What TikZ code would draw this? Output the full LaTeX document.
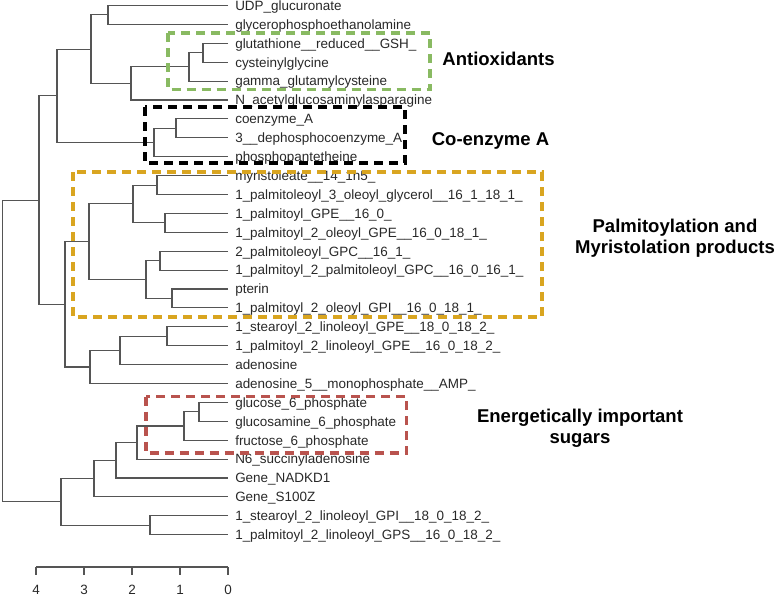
\documentclass[tikz,border=0pt]{standalone}
\usepackage{fontspec}
\setmainfont{Liberation Sans}
\usepackage{tikz}
\definecolor{treegray}{RGB}{85,85,85}
\definecolor{labelgray}{RGB}{40,40,40}
\definecolor{boxgreen}{RGB}{137,186,98}
\definecolor{boxgold}{RGB}{217,165,32}
\definecolor{boxred}{RGB}{185,83,78}
\tikzset{
	leaf/.style={anchor=west, inner xsep=5.25pt, inner ysep=0pt, text height=7.2pt, text depth=0pt, text=labelgray, font=\fontsize{10.1}{12}\selectfont},
	branch/.style={line width=0.8pt, color=treegray},
	clusterbox/.style={line width=2.4pt, dash pattern=on 6.75pt off 4.5pt},
	grouplabel/.style={font=\fontsize{13.9}{16}\selectfont\bfseries, align=center, inner sep=0pt},
	axisnum/.style={inner sep=0pt, text height=7.2pt, text depth=0pt, text=labelgray, font=\fontsize{10.1}{12}\selectfont}
}

\begin{document}
\begin{tikzpicture}[x=0.75pt, y=-0.75pt]
			%%%%% START %%%%%
			\useasboundingbox (0, 0) rectangle (778, 597);
			
			% leaves
			\node[leaf] (udp) at (228, 5.5) {UDP\_glucuronate};
			\node[leaf] (gpe) at (228, 24.4) {glycerophosphoethanolamine};
			\node[leaf] (gsh) at (228, 43.3) {glutathione\_\_reduced\_\_GSH\_};
			\node[leaf] (cysgly) at (228, 62.2) {cysteinylglycine};
			\node[leaf] (ggc) at (228, 81.1) {gamma\_glutamylcysteine};
			\node[leaf] (nacetyl) at (228, 100) {N\_acetylglucosaminylasparagine};
			\node[leaf] (coa) at (228, 118.9) {coenzyme\_A};
			\node[leaf] (dpcoa) at (228, 137.8) {3\_\_dephosphocoenzyme\_A};
			\node[leaf] (ppant) at (228, 156.7) {phosphopantetheine};
			\node[leaf] (myr) at (228, 175.6) {myristoleate\_\_14\_1n5\_};
			\node[leaf] (pog) at (228, 194.5) {1\_palmitoleoyl\_3\_oleoyl\_glycerol\_\_16\_1\_18\_1\_};
			\node[leaf] (pgpe) at (228, 213.4) {1\_palmitoyl\_GPE\_\_16\_0\_};
			\node[leaf] (pogpe) at (228, 232.3) {1\_palmitoyl\_2\_oleoyl\_GPE\_\_16\_0\_18\_1\_};
			\node[leaf] (plgpc) at (228, 251.2) {2\_palmitoleoyl\_GPC\_\_16\_1\_};
			\node[leaf] (ppgpc) at (228, 270.1) {1\_palmitoyl\_2\_palmitoleoyl\_GPC\_\_16\_0\_16\_1\_};
			\node[leaf] (pterin) at (228, 289) {pterin};
			\node[leaf] (pogpi) at (228, 307.9) {1\_palmitoyl\_2\_oleoyl\_GPI\_\_16\_0\_18\_1\_};
			\node[leaf] (slgpe) at (228, 326.8) {1\_stearoyl\_2\_linoleoyl\_GPE\_\_18\_0\_18\_2\_};
			\node[leaf] (plgpe) at (228, 345.7) {1\_palmitoyl\_2\_linoleoyl\_GPE\_\_16\_0\_18\_2\_};
			\node[leaf] (ado) at (228, 364.6) {adenosine};
			\node[leaf] (amp) at (228, 383.5) {adenosine\_5\_\_monophosphate\_\_AMP\_};
			\node[leaf] (g6p) at (228, 402.4) {glucose\_6\_phosphate};
			\node[leaf] (gn6p) at (228, 421.3) {glucosamine\_6\_phosphate};
			\node[leaf] (f6p) at (228, 440.2) {fructose\_6\_phosphate};
			\node[leaf] (n6sa) at (228, 459.1) {N6\_succinyladenosine};
			\node[leaf] (nadkd) at (228, 478) {Gene\_NADKD1};
			\node[leaf] (s100z) at (228, 496.9) {Gene\_S100Z};
			\node[leaf] (slgpi) at (228, 515.8) {1\_stearoyl\_2\_linoleoyl\_GPI\_\_18\_0\_18\_2\_};
			\node[leaf] (plgps) at (228, 534.7) {1\_palmitoyl\_2\_linoleoyl\_GPS\_\_16\_0\_18\_2\_};
			
			% merges
			\coordinate (h1) at (108, 14.95);
			\coordinate (h2) at (203, 52.75);
			\coordinate (h3) at (189, 66.9);
			\coordinate (h4) at (131, 83.5);
			\coordinate (h5) at (91, 49.2);
			\coordinate (h6) at (176, 128.35);
			\coordinate (h7) at (154, 142.5);
			\coordinate (h8) at (57, 95.9);
			\coordinate (h9) at (157, 185.05);
			\coordinate (h10) at (165, 222.85);
			\coordinate (h11) at (133, 203.95);
			\coordinate (h12) at (160, 260.65);
			\coordinate (h13) at (172, 298.45);
			\coordinate (h14) at (146, 279.55);
			\coordinate (h15) at (89, 241.75);
			\coordinate (h16) at (167, 336.25);
			\coordinate (h17) at (120, 350.4);
			\coordinate (h18) at (90, 367);
			\coordinate (h19) at (65, 304.4);
			\coordinate (h20) at (39, 200.1);
			\coordinate (h21) at (199, 411.85);
			\coordinate (h22) at (184, 426);
			\coordinate (h23) at (137, 442.6);
			\coordinate (h24) at (116, 460.3);
			\coordinate (h25) at (94, 478.6);
			\coordinate (h26) at (150, 525.25);
			\coordinate (h27) at (61, 501.9);
			\coordinate (h28) at (2.5, 351);
			
			\draw[branch] (udp.west) -| (h1) |- (gpe.west);
			\draw[branch] (gsh.west) -| (h2) |- (cysgly.west);
			\draw[branch] (h2) -| (h3) |- (ggc.west);
			\draw[branch] (h3) -| (h4) |- (nacetyl.west);
			\draw[branch] (h1) -| (h5) |- (h4);
			\draw[branch] (coa.west) -| (h6) |- (dpcoa.west);
			\draw[branch] (h6) -| (h7) |- (ppant.west);
			\draw[branch] (h5) -| (h8) |- (h7);
			
			\draw[branch] (myr.west) -| (h9) |- (pog.west);
			\draw[branch] (pgpe.west) -| (h10) |- (pogpe.west);
			\draw[branch] (h9) -| (h11) |- (h10);
			\draw[branch] (plgpc.west) -| (h12) |- (ppgpc.west);
			\draw[branch] (pterin.west) -| (h13) |- (pogpi.west);
			\draw[branch] (h12) -| (h14) |- (h13);
			\draw[branch] (h11) -| (h15) |- (h14);
			\draw[branch] (slgpe.west) -| (h16) |- (plgpe.west);
			\draw[branch] (h16) -| (h17) |- (ado.west);
			\draw[branch] (h17) -| (h18) |- (amp.west);
			\draw[branch] (h15) -| (h19) |- (h18);
			\draw[branch] (h8) -| (h20) |- (h19);
			
			\draw[branch] (g6p.west) -| (h21) |- (gn6p.west);
			\draw[branch] (h21) -| (h22) |- (f6p.west);
			\draw[branch] (h22) -| (h23) |- (n6sa.west);
			\draw[branch] (h23) -| (h24) |- (nadkd.west);
			\draw[branch] (h24) -| (h25) |- (s100z.west);
			\draw[branch] (slgpi.west) -| (h26) |- (plgps.west);
			\draw[branch] (h25) -| (h27) |- (h26);
			\draw[branch] (h20) -| (h28) |- (h27);
			
			% height axis
			\draw[branch] (36, 567) -- (228, 567);
			\draw[branch] (36, 567) -- (36, 575);
			\draw[branch] (84, 567) -- (84, 575);
			\draw[branch] (132, 567) -- (132, 575);
			\draw[branch] (180, 567) -- (180, 575);
			\draw[branch] (228, 567) -- (228, 575);
			\node[axisnum] (ax4) at (36, 590) {4};
			\node[axisnum] (ax3) at (84, 590) {3};
			\node[axisnum] (ax2) at (132, 590) {2};
			\node[axisnum] (ax1) at (180, 590) {1};
			\node[axisnum] (ax0) at (228, 590) {0};
			
			% dashed clusters
			\draw[clusterbox, color=boxgreen] (168, 33) rectangle (430, 89.5);
			\draw[clusterbox, color=black] (145, 107) rectangle (405, 163);
			\draw[clusterbox, color=boxgold] (73, 172) rectangle (542, 317);
			\draw[clusterbox, color=boxred] (146, 396.5) rectangle (406.5, 453);
			
			\node[grouplabel, anchor=base] (antiox) at (498.5, 65) {Antioxidants};
			\node[grouplabel, anchor=base] (coenz) at (490.5, 145) {Co-enzyme A};
			\node[grouplabel] (palmit) at (675, 238.5) {Palmitoylation and\\Myristolation products};
			\node[grouplabel] (sugars) at (580, 428.5) {Energetically important\\sugars};
			
			%%%%% END %%%%%
		\end{tikzpicture}
\end{document}
